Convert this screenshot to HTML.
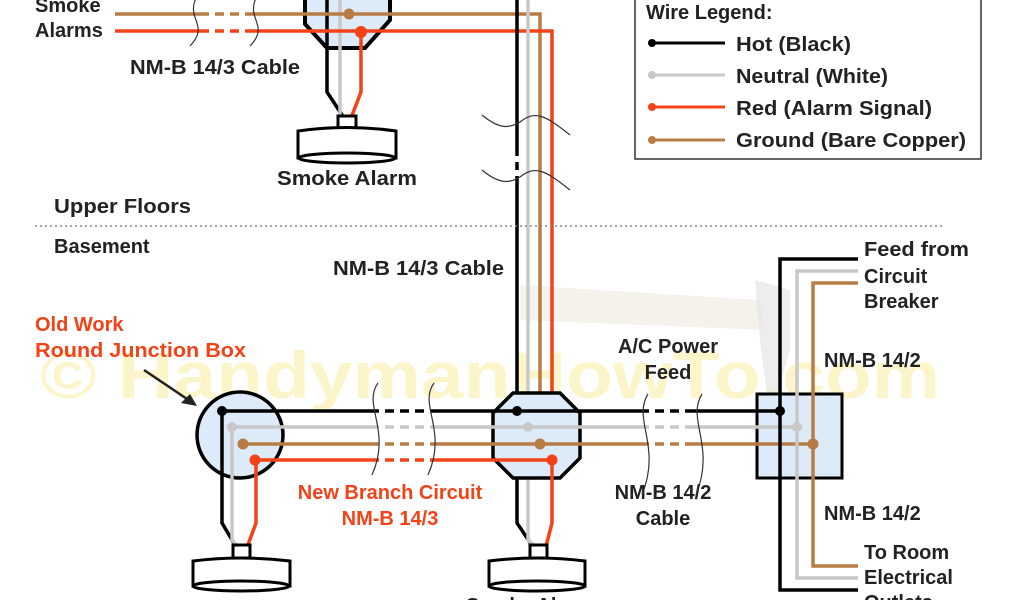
<!DOCTYPE html>
<html><head><meta charset="utf-8"><style>
html,body{margin:0;padding:0;background:#fff;}
svg{display:block;font-family:"Liberation Sans",Arial,sans-serif;font-weight:bold;}
</style></head><body>
<svg width="1024" height="600" viewBox="0 0 1024 600" xmlns="http://www.w3.org/2000/svg">
<text x="40" y="398" font-size="66" fill="#fcf5c9" textLength="900" lengthAdjust="spacingAndGlyphs">© HandymanHowTo.com</text>
<path d="M520 285 L760 300 L765 330 L520 320 Z" fill="#f3efe6" opacity="0.8"/>
<path d="M755 280 L790 290 L790 350 L770 420 L760 340 Z" fill="#e6e6e6" opacity="0.7"/>

<rect x="635" y="-2" width="346" height="161" fill="#fff" stroke="#333" stroke-width="1.5"/>
<text x="646" y="19" font-size="20" fill="#222">Wire Legend:</text>
<g stroke-width="3">
<line x1="652" y1="43" x2="725" y2="43" stroke="#000"/>
<line x1="652" y1="75" x2="725" y2="75" stroke="#c8c8c8"/>
<line x1="652" y1="107" x2="725" y2="107" stroke="#f24318"/>
<line x1="652" y1="140" x2="725" y2="140" stroke="#b87d45"/>
</g>
<circle cx="652" cy="43" r="4" fill="#000"/><circle cx="652" cy="75" r="4" fill="#c8c8c8"/>
<circle cx="652" cy="107" r="4" fill="#f24318"/><circle cx="652" cy="140" r="4" fill="#b87d45"/>
<g font-size="20" fill="#222">
<text x="736" y="51" textLength="115" lengthAdjust="spacingAndGlyphs">Hot (Black)</text>
<text x="736" y="83" textLength="152" lengthAdjust="spacingAndGlyphs">Neutral (White)</text>
<text x="736" y="115" textLength="196" lengthAdjust="spacingAndGlyphs">Red (Alarm Signal)</text>
<text x="736" y="147" textLength="230" lengthAdjust="spacingAndGlyphs">Ground (Bare Copper)</text>
</g>

<path d="M305 -5 L390 -5 L390 20 L365 48 L327 48 L305 24 Z" fill="#ddeaf7" stroke="#000" stroke-width="4"/>
<g fill="none" stroke-width="3.5">
<path d="M327 -5 L327 92 L344 118" stroke="#000"/>
<path d="M340 -5 L340 118" stroke="#c8c8c8"/>
<path d="M361 32 L361 92 L351 118" stroke="#f24318"/>
<path d="M115 14 L200 14 M250 14 L540 14 L540 444" stroke="#b87d45"/>
<path d="M115 31 L200 31 M250 31 L552 31 L552 460" stroke="#f24318"/>
<path d="M200 14 L250 14" stroke="#b87d45" stroke-dasharray="9 6"/>
<path d="M200 31 L250 31" stroke="#f24318" stroke-dasharray="9 6"/>
<path d="M517 -5 L517 148 M517 180 L517 523 L535 550" stroke="#000"/>
<path d="M517 148 L517 180" stroke="#000" stroke-dasharray="8 6"/>
<path d="M528 -5 L528 540 L540 550" stroke="#c8c8c8"/>
</g>
<circle cx="349" cy="14" r="5.5" fill="#b87d45"/>
<circle cx="361" cy="32" r="6" fill="#f24318"/>
<g fill="none" stroke="#333" stroke-width="1.2">
<path d="M196 -2 C186 20 210 25 190 46"/>
<path d="M256 -2 C246 20 270 25 250 46"/>
<path d="M482 115 C500 130 510 128 520 122 C535 110 545 115 570 135"/>
<path d="M482 170 C500 185 510 183 520 177 C535 165 545 170 570 190"/>
</g>
<rect x="338" y="116" width="18" height="13" fill="#fff" stroke="#000" stroke-width="3"/>
<path d="M298 131 Q347 124 396 131 L396 158 L298 158 Z" fill="#fff" stroke="#000" stroke-width="3"/>
<ellipse cx="347" cy="158" rx="48" ry="5" fill="#fff" stroke="#000" stroke-width="3"/>

<g font-size="20" fill="#222">
<text x="35" y="12">Smoke</text>
<text x="35" y="37">Alarms</text>
<text x="130" y="74" textLength="170" lengthAdjust="spacingAndGlyphs">NM-B 14/3 Cable</text>
<text x="277" y="185" textLength="140" lengthAdjust="spacingAndGlyphs">Smoke Alarm</text>
<text x="54" y="213" textLength="137" lengthAdjust="spacingAndGlyphs">Upper Floors</text>
<text x="54" y="253">Basement</text>
<text x="333" y="275" textLength="171" lengthAdjust="spacingAndGlyphs">NM-B 14/3 Cable</text>
<text x="668" y="353" text-anchor="middle">A/C Power</text>
<text x="668" y="379" text-anchor="middle">Feed</text>
<text x="663" y="499" text-anchor="middle">NM-B 14/2</text>
<text x="663" y="525" text-anchor="middle">Cable</text>
<text x="864" y="256" textLength="105" lengthAdjust="spacingAndGlyphs">Feed from</text>
<text x="864" y="283">Circuit</text>
<text x="864" y="308">Breaker</text>
<text x="824" y="367">NM-B 14/2</text>
<text x="824" y="520">NM-B 14/2</text>
<text x="864" y="559">To Room</text>
<text x="864" y="584">Electrical</text>
<text x="864" y="609">Outlets</text>
<text x="466" y="612">Smoke Alarm</text>
</g>
<g font-size="20" fill="#f24318">
<text x="35" y="331">Old Work</text>
<text x="35" y="357" textLength="211" lengthAdjust="spacingAndGlyphs">Round Junction Box</text>
<text x="390" y="499" text-anchor="middle">New Branch Circuit</text>
<text x="390" y="525" text-anchor="middle">NM-B 14/3</text>
</g>
<line x1="35" y1="226" x2="945" y2="226" stroke="#888" stroke-width="1.5" stroke-dasharray="2 3"/>

<path d="M144 370 L193 403" stroke="#222" stroke-width="2.5"/>
<path d="M197 406 L181 403 L190 394 Z" fill="#222"/>

<circle cx="240" cy="435" r="43" fill="#ddeaf7" stroke="#000" stroke-width="3.5"/>
<path d="M513 393 L560 393 L580 413 L580 458 L560 478 L513 478 L493 458 L493 413 Z" fill="#ddeaf7" stroke="#000" stroke-width="3.5"/>
<rect x="757" y="394" width="85" height="84" fill="#ddeaf7" stroke="#000" stroke-width="3"/>

<g fill="none" stroke-width="3.5">
<path d="M222 411 L370 411 M430 411 L640 411 M690 411 L780 411" stroke="#000"/>
<path d="M370 411 L430 411 M640 411 L690 411" stroke="#000" stroke-dasharray="9 6"/>
<path d="M232 427 L370 427 M430 427 L640 427 M690 427 L797 427" stroke="#c8c8c8"/>
<path d="M370 427 L430 427 M640 427 L690 427" stroke="#c8c8c8" stroke-dasharray="9 6"/>
<path d="M243 444 L370 444 M430 444 L640 444 M690 444 L813 444" stroke="#b87d45"/>
<path d="M370 444 L430 444 M640 444 L690 444" stroke="#b87d45" stroke-dasharray="9 6"/>
<path d="M255 460 L370 460 M430 460 L552 460" stroke="#f24318"/>
<path d="M370 460 L430 460" stroke="#f24318" stroke-dasharray="9 6"/>
<path d="M222 411 L222 523 L238 550" stroke="#000"/>
<path d="M232 427 L232 540 L241 550" stroke="#c8c8c8"/>
<path d="M256 460 L256 523 L246 550" stroke="#f24318"/>
<path d="M552 460 L552 523 L545 550" stroke="#f24318"/>
<path d="M858 259 L780 259 L780 590 L858 590" stroke="#000"/>
<path d="M858 271 L797 271 L797 578 L858 578" stroke="#c8c8c8"/>
<path d="M858 283 L813 283 L813 566 L858 566" stroke="#b87d45"/>
</g>
<circle cx="222" cy="411" r="5" fill="#000"/><circle cx="232" cy="427" r="5" fill="#c8c8c8"/>
<circle cx="243" cy="444" r="5.5" fill="#b87d45"/><circle cx="255" cy="460" r="5.5" fill="#f24318"/>
<circle cx="517" cy="411" r="5" fill="#000"/><circle cx="528" cy="427" r="5" fill="#c8c8c8"/>
<circle cx="540" cy="444" r="5.5" fill="#b87d45"/><circle cx="552" cy="460" r="5.5" fill="#f24318"/>
<circle cx="780" cy="411" r="5" fill="#000"/><circle cx="797" cy="427" r="5" fill="#c8c8c8"/>
<circle cx="813" cy="444" r="5.5" fill="#b87d45"/>
<g fill="none" stroke="#333" stroke-width="1.2">
<path d="M378 383 C362 405 392 430 372 475"/>
<path d="M434 383 C418 405 448 430 428 475"/>
<path d="M648 394 C632 420 662 445 642 495"/>
<path d="M702 394 C686 420 716 445 696 495"/>
</g>
<rect x="233" y="545" width="17" height="13" fill="#fff" stroke="#000" stroke-width="3"/>
<path d="M193 561 Q241 555 290 561 L290 586 L193 586 Z" fill="#fff" stroke="#000" stroke-width="3"/>
<ellipse cx="241" cy="586" rx="48" ry="5" fill="#fff" stroke="#000" stroke-width="3"/>
<rect x="530" y="545" width="17" height="13" fill="#fff" stroke="#000" stroke-width="3"/>
<path d="M489 561 Q537 555 585 561 L585 586 L489 586 Z" fill="#fff" stroke="#000" stroke-width="3"/>
<ellipse cx="537" cy="586" rx="48" ry="5" fill="#fff" stroke="#000" stroke-width="3"/>
</svg>
</body></html>
